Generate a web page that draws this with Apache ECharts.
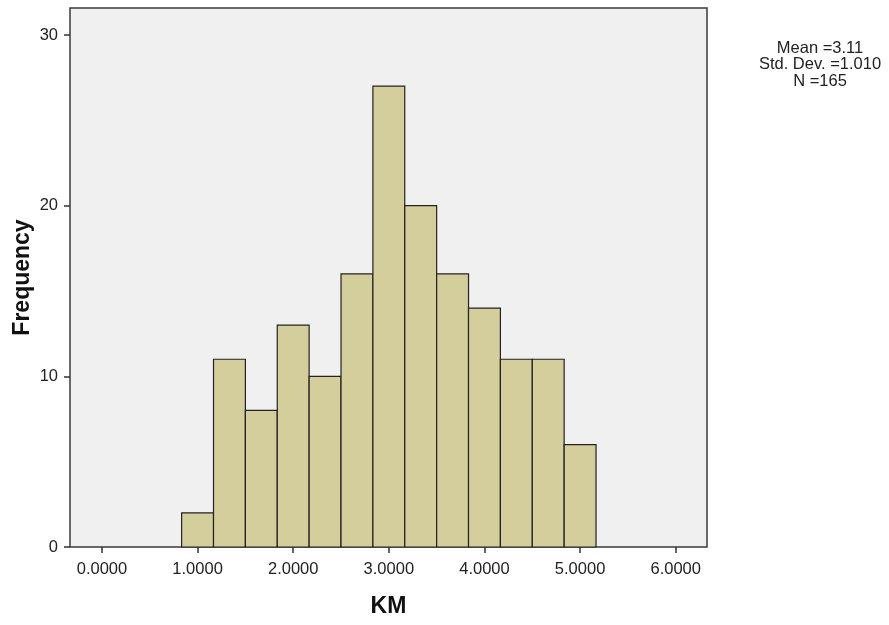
<!DOCTYPE html>
<html>
<head>
<meta charset="utf-8">
<script src="https://cdn.jsdelivr.net/npm/echarts@6/dist/echarts.min.js"></script>
<style>html,body{margin:0;padding:0;background:#fff}#c{width:889px;height:625px}</style>
</head>
<body>
<div id="c"></div>
<script>
// Histogram of KM (bin lower edges, bin width, frequencies)
var binLow = [0.8333, 1.1667, 1.5, 1.8333, 2.1667, 2.5, 2.8333, 3.1667, 3.5, 3.8333, 4.1667, 4.5, 4.8333];
var binWidth = 0.3333;
var counts = [2, 11, 8, 13, 10, 16, 27, 20, 16, 14, 11, 11, 6];
var xTicks = [0, 1, 2, 3, 4, 5, 6];
var yTicks = [0, 10, 20, 30];
var statsLines = ['Mean =3.11', 'Std. Dev. =1.010', 'N =165'];
var xName = 'KM';
var yName = 'Frequency';

var data = binLow.map(function (lo, i) { return [lo, lo + binWidth, counts[i]]; });

var chart = echarts.init(document.getElementById('c'), null, { renderer: 'canvas' });
var FONT = 'Arial, "Liberation Sans", sans-serif';
chart.setOption({
  animation: false,
  backgroundColor: '#ffffff',
  grid: {
    left: 70, top: 8, right: 182, bottom: 78, containLabel: false, outerBoundsMode: 'none',
    show: true, backgroundColor: '#F0F0F0', borderColor: '#3a3a3a', borderWidth: 1.5
  },
  xAxis: {
    type: 'value', min: -0.334, max: 6.327,
    name: xName, nameLocation: 'middle', nameGap: 48, nameMoveOverlap: false,
    nameTextStyle: { fontFamily: FONT, fontSize: 23, fontWeight: 'bold', color: '#111' },
    axisLine: { show: false, onZero: false },
    splitLine: { show: false },
    axisTick: { show: true, length: 6, lineStyle: { color: '#333', width: 1.5 }, customValues: xTicks },
    axisLabel: {
      customValues: xTicks, margin: 14, fontFamily: FONT, fontSize: 16.5, color: '#222',
      formatter: function (v) { return v.toFixed(4); }
    }
  },
  yAxis: {
    type: 'value', min: 0, max: 31.58,
    name: yName, nameLocation: 'middle', nameGap: 36, nameRotate: 90, nameMoveOverlap: false,
    nameTextStyle: { fontFamily: FONT, fontSize: 23, fontWeight: 'bold', color: '#111' },
    axisLine: { show: false, onZero: false },
    splitLine: { show: false },
    axisTick: { show: true, length: 6, lineStyle: { color: '#333', width: 1.5 }, customValues: yTicks },
    axisLabel: { customValues: yTicks, margin: 12, fontFamily: FONT, fontSize: 16.5, color: '#222' }
  },
  series: [{
    type: 'custom',
    data: data,
    encode: { x: [0, 1], y: 2 },
    renderItem: function (params, api) {
      var p1 = api.coord([api.value(0), api.value(2)]);
      var p2 = api.coord([api.value(1), 0]);
      return {
        type: 'rect',
        shape: { x: p1[0], y: p1[1], width: p2[0] - p1[0], height: p2[1] - p1[1] },
        style: { fill: '#D3CE9B', stroke: '#222', lineWidth: 1.2 }
      };
    }
  }],
  graphic: statsLines.map(function (t, i) {
    return {
      type: 'text', x: 820, y: 48 + i * 16.5,
      style: { text: t, textAlign: 'center', textVerticalAlign: 'middle', font: '16.5px ' + FONT, fill: '#222' }
    };
  })
});
</script>
</body>
</html>
